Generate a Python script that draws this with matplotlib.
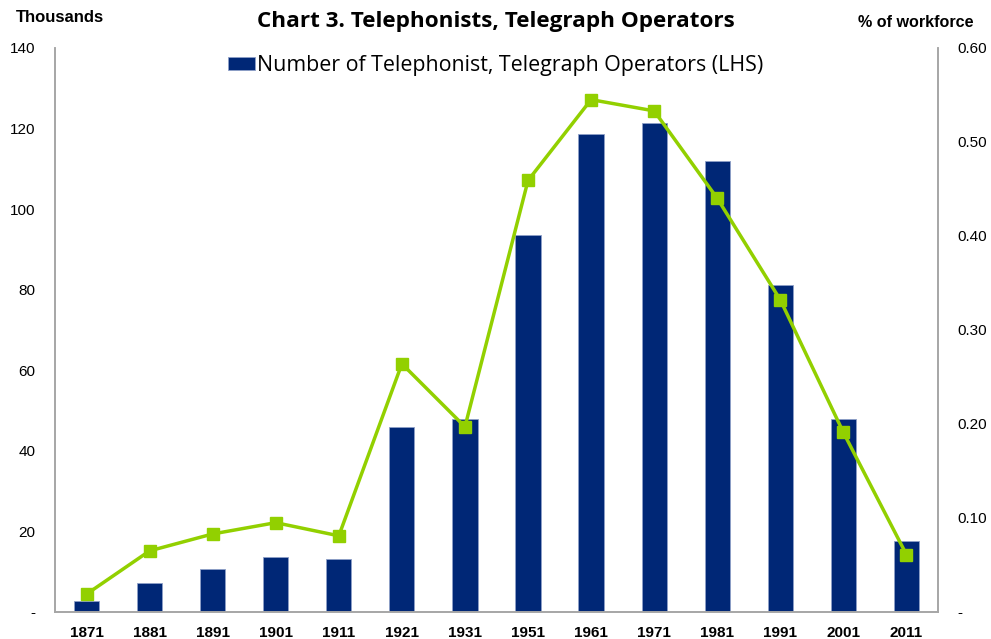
import numpy as np
import matplotlib
matplotlib.use('Agg')
import matplotlib.pyplot as plt
from matplotlib.ticker import FuncFormatter

# census years and values
years = ['1871', '1881', '1891', '1901', '1911', '1921', '1931',
         '1951', '1961', '1971', '1981', '1991', '2001', '2011']
operators_k = [2.7, 7.2, 10.6, 13.6, 13.1, 45.8, 47.8,
               93.6, 118.6, 121.3, 112.0, 81.2, 47.8, 17.5]
share_pct = [0.019, 0.065, 0.083, 0.095, 0.081, 0.264, 0.197,
             0.459, 0.545, 0.533, 0.440, 0.332, 0.191, 0.061]

navy = '#002776'
green = '#92D000'
grey = '#A6A6A6'
tick_font = 'Liberation Sans'

fig = plt.figure(figsize=(9.91, 6.39), dpi=100)
ax = fig.add_axes([0.0555, 0.0423, 0.891, 0.8827])
x = np.arange(len(years))

bars = ax.bar(x, operators_k, width=0.4, color=navy, edgecolor='#8EA0C8',
              linewidth=0.6, label='Number of Telephonist, Telegraph Operators (LHS)')
ax.set_xlim(-0.5, len(years) - 0.5)
ax.set_ylim(0, 140)
ax.set_yticks(np.arange(0, 141, 20))
ax.yaxis.set_major_formatter(FuncFormatter(lambda v, p: '-' if v == 0 else '%d' % v))
ax.set_xticks(x)
ax.set_xticklabels(years, fontfamily=tick_font, fontweight='bold', fontsize=11)
for lab in ax.get_yticklabels():
    lab.set_fontfamily(tick_font)
    lab.set_fontsize(11)
ax.tick_params(axis='both', length=0, pad=10)
ax.tick_params(axis='y', pad=14)

ax2 = ax.twinx()
ax2.plot(x, share_pct, color=green, linewidth=2.5, marker='s', markersize=8)
ax2.set_ylim(0, 0.6)
ax2.set_yticks(np.arange(0, 0.61, 0.1))
ax2.yaxis.set_major_formatter(FuncFormatter(lambda v, p: '-' if v < 1e-9 else '%.2f' % v))
for lab in ax2.get_yticklabels():
    lab.set_fontfamily(tick_font)
    lab.set_fontsize(11)
ax2.tick_params(axis='y', length=0, pad=14)

for a in (ax, ax2):
    a.spines['top'].set_visible(False)
    for s in ('left', 'right', 'bottom'):
        a.spines[s].set_color(grey)
        a.spines[s].set_linewidth(1.2)

fig.text(0.5, 0.966, 'Chart 3. Telephonists, Telegraph Operators', ha='center', va='center',
         fontfamily='Open Sans', fontweight='bold', fontsize=16.2)
fig.text(0.016, 0.972, 'Thousands', ha='left', va='center',
         fontfamily=tick_font, fontweight='bold', fontsize=12)
fig.text(0.982, 0.965, '% of workforce', ha='right', va='center',
         fontfamily=tick_font, fontweight='bold', fontsize=11.6)

ax.legend(handles=[bars], loc='center', bbox_to_anchor=(0.5, 0.898),
          bbox_transform=fig.transFigure, frameon=False, handlelength=1.26,
          handleheight=0.56, handletextpad=0.1, borderpad=0,
          prop={'family': 'Open Sans', 'size': 15.4})

fig.savefig('out.png', dpi=100)
